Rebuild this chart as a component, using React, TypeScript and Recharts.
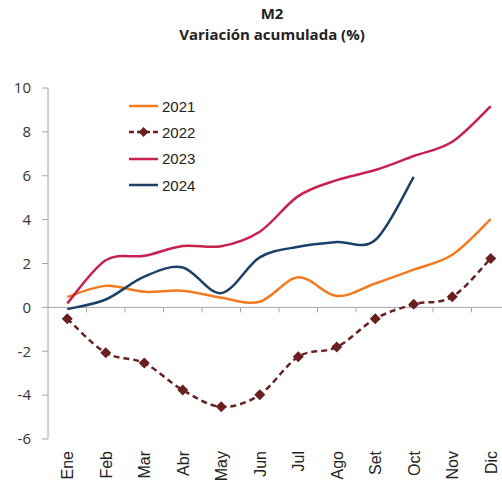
import React from 'react';
import { LineChart, Line, XAxis, YAxis, ReferenceLine, Legend } from 'recharts';

const months = ['Ene', 'Feb', 'Mar', 'Abr', 'May', 'Jun', 'Jul', 'Ago', 'Set', 'Oct', 'Nov', 'Dic'];
const s2021 = [0.48, 0.98, 0.71, 0.76, 0.44, 0.26, 1.37, 0.52, 1.09, 1.72, 2.4, 4.02];
const s2022 = [-0.52, -2.07, -2.54, -3.77, -4.53, -3.98, -2.25, -1.81, -0.52, 0.14, 0.48, 2.23];
const s2023 = [0.18, 2.15, 2.35, 2.8, 2.79, 3.45, 5.07, 5.8, 6.26, 6.9, 7.55, 9.17];
const s2024: (number | null)[] = [-0.08, 0.36, 1.4, 1.82, 0.65, 2.28, 2.76, 2.98, 3.07, 5.95, null, null];
const yTicks = [-6, -4, -2, 0, 2, 4, 6, 8, 10];

const seriesNames = ['2021', '2022', '2023', '2024'];
const seriesColors = ['#F47A20', '#6A2020', '#C8204F', '#1B3F66'];

const data = months.map((m, i) => ({
  m,
  a2021: s2021[i],
  a2022: s2022[i],
  a2023: s2023[i],
  a2024: s2024[i],
}));

// Excel-like smoothing (uniform Catmull-Rom as cubic Bezier)
const excelCurve = (context: any) => {
  let pts: [number, number][] = [];
  return {
    areaStart() {},
    areaEnd() {},
    lineStart() {
      pts = [];
    },
    point(x: number, y: number) {
      pts.push([+x, +y]);
    },
    lineEnd() {
      const n = pts.length;
      if (!n) return;
      context.moveTo(pts[0][0], pts[0][1]);
      for (let i = 0; i < n - 1; i++) {
        const p0 = pts[Math.max(i - 1, 0)];
        const p1 = pts[i];
        const p2 = pts[i + 1];
        const p3 = pts[Math.min(i + 2, n - 1)];
        context.bezierCurveTo(
          p1[0] + (p2[0] - p0[0]) / 6,
          p1[1] + (p2[1] - p0[1]) / 6,
          p2[0] - (p3[0] - p1[0]) / 6,
          p2[1] - (p3[1] - p1[1]) / 6,
          p2[0],
          p2[1]
        );
      }
    },
  };
};

const Diamond = (props: any) => {
  const { cx, cy } = props;
  if (cx == null || cy == null) return null;
  const r = 5.5;
  return (
    <polygon
      points={`${cx},${cy - r} ${cx + r},${cy} ${cx},${cy + r} ${cx - r},${cy}`}
      fill="#6A2020"
      stroke="none"
    />
  );
};

const MonthTick = (props: any) => {
  const { x, y, payload } = props;
  const ty = y + 12;
  return (
    <text
      x={x}
      y={ty}
      transform={`rotate(-90 ${x} ${ty})`}
      textAnchor="end"
      dy="0.36em"
      fill="#222"
      fontSize={16}
      fontFamily="'Liberation Sans', Arial, sans-serif"
    >
      {payload.value}
    </text>
  );
};

const ZeroAxis = (p: any) => {
  const { x1, y1, x2 } = p;
  const step = (x2 - x1) / months.length;
  return (
    <g>
      <line x1={x1} y1={y1} x2={x2} y2={y1} stroke="#a6a6a6" strokeWidth={1} />
      {months.map((_, i) =>
        i > 0 ? (
          <line key={i} x1={x1 + step * i} y1={y1} x2={x1 + step * i} y2={y1 + 5} stroke="#a6a6a6" strokeWidth={1} />
        ) : null
      )}
    </g>
  );
};

const LegendContent = () => (
  <div style={{ fontFamily: "'Liberation Sans', Arial, sans-serif", fontSize: 15, color: '#222' }}>
    {seriesNames.map((name, i) => (
      <div key={name} style={{ display: 'flex', alignItems: 'center', height: 26.3 }}>
        <svg width={33} height={12} style={{ display: 'block' }}>
          {i === 1 ? (
            <g>
              <line x1={0} y1={6} x2={29} y2={6} stroke={seriesColors[i]} strokeWidth={2.5} strokeDasharray="5 3" />
              <polygon points="14.5,1 19.5,6 14.5,11 9.5,6" fill={seriesColors[i]} />
            </g>
          ) : (
            <line x1={0} y1={6} x2={29} y2={6} stroke={seriesColors[i]} strokeWidth={2.5} />
          )}
        </svg>
        <span style={{ lineHeight: '15px' }}>{name}</span>
      </div>
    ))}
  </div>
);

export default function App() {
  return (
    <div style={{ position: 'absolute', left: 0, top: 0, width: 502, height: 485, overflow: 'hidden', background: '#fff' }}>
      <div
        style={{
          position: 'absolute',
          left: 122,
          top: 3,
          width: 300,
          textAlign: 'center',
          fontFamily: "'Open Sans', sans-serif",
          fontWeight: 700,
          fontSize: 15,
          color: '#222',
          lineHeight: '21px',
        }}
      >
        <div>M2</div>
        <div>Variación acumulada (%)</div>
      </div>
      <div style={{ position: 'absolute', left: 0, top: 0 }}>
        <LineChart width={512} height={485} data={data} margin={{ top: 88, right: 2, bottom: 0, left: 0 }}>
          <XAxis
            dataKey="m"
            axisLine={false}
            tickLine={false}
            tickSize={0}
            tickMargin={0}
            height={46}
            interval={0}
            padding={{ left: 19.25, right: 19.25 }}
            tick={<MonthTick />}
          />
          <YAxis
            domain={[-6, 10]}
            ticks={yTicks}
            width={48}
            interval={0}
            allowDataOverflow
            axisLine={{ stroke: '#a6a6a6' }}
            tickLine={{ stroke: '#a6a6a6' }}
            tickSize={6}
            tickMargin={11}
            tick={{ fill: '#333', fontSize: 15, fontFamily: "'Open Sans', sans-serif" }}
          />
          <ReferenceLine y={0} shape={ZeroAxis} />
          <Legend
            layout="vertical"
            align="center"
            verticalAlign="middle"
            content={<LegendContent />}
            wrapperStyle={{ position: 'absolute', left: 129, top: 93, width: 80 }}
          />
          <Line
            dataKey="a2021"
            name="2021"
            type={excelCurve as any}
            stroke={seriesColors[0]}
            strokeWidth={2.5}
            dot={false}
            isAnimationActive={false}
          />
          <Line
            dataKey="a2022"
            name="2022"
            type={excelCurve as any}
            stroke={seriesColors[1]}
            strokeWidth={2.5}
            strokeDasharray="6 4"
            dot={<Diamond />}
            isAnimationActive={false}
          />
          <Line
            dataKey="a2023"
            name="2023"
            type={excelCurve as any}
            stroke={seriesColors[2]}
            strokeWidth={2.5}
            dot={false}
            isAnimationActive={false}
          />
          <Line
            dataKey="a2024"
            name="2024"
            type={excelCurve as any}
            stroke={seriesColors[3]}
            strokeWidth={2.5}
            dot={false}
            isAnimationActive={false}
          />
        </LineChart>
      </div>
    </div>
  );
}
